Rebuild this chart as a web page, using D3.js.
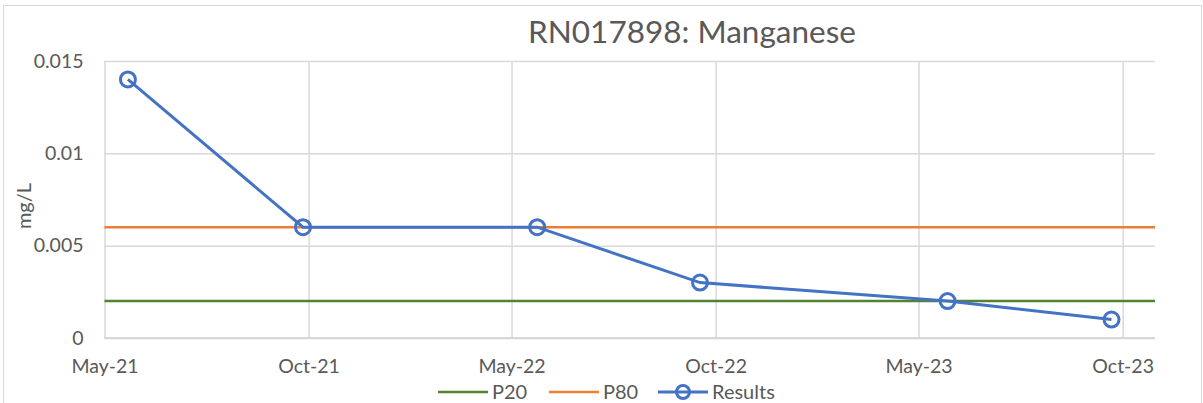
<!DOCTYPE html>
<html>
<head>
<meta charset="utf-8">
<script src="https://cdn.jsdelivr.net/npm/d3@7"></script>
<style>
  body { margin: 0; background: #fff; }
  text { font-family: Lato, "Open Sans", sans-serif; fill: #595959; }
</style>
</head>
<body>
<svg id="chart"></svg>
<script>
var sampleDates = ["2021-05-22", "2021-10-26", "2022-05-24", "2022-10-17", "2023-05-27", "2023-10-21"]
var results = [0.014, 0.006, 0.006, 0.003, 0.002, 0.001]
var p20 = 0.002
var p80 = 0.006
var tickDates = ["2021-05-01", "2021-10-31", "2022-05-01", "2022-10-31", "2023-05-01", "2023-10-31"]
var axisEnd = "2023-11-29"
var yTicks = [0, 0.005, 0.01, 0.015]
var title = "RN017898: Manganese"

var parse = d3.timeParse("%Y-%m-%d")

var screen = {width: 1203, height: 403}
var margins = {top: 61, bottom: 65, left: 104.5, right: 48}
var graph = {
    width: screen.width - margins.left - margins.right,
    height: screen.height - margins.top - margins.bottom
}

var svg = d3.select("#chart")
    .attr("width", screen.width)
    .attr("height", screen.height)

// chart frame
svg.append("rect")
    .attr("x", 3.5).attr("y", 5.5)
    .attr("width", 1198).attr("height", 410)
    .attr("fill", "white")
    .attr("stroke", "#d9d9d9")
    .attr("stroke-width", 1)

var xScale = d3.scaleTime()
    .domain([parse(tickDates[0]), parse(axisEnd)])
    .range([0, graph.width])

var yScale = d3.scaleLinear()
    .domain([0, 0.015])
    .range([graph.height, 0])

var g = svg.append("g")
    .attr("transform", "translate(" + margins.left + "," + margins.top + ")")

// gridlines
var yAxis = d3.axisLeft(yScale)
    .tickValues(yTicks)
    .tickSize(-graph.width)
    .tickPadding(21)
    .tickFormat(function(d) { return d3.format("")(+d.toFixed(3)) })

var xAxis = d3.axisBottom(xScale)
    .tickValues(tickDates.map(parse))
    .tickSize(-graph.height)
    .tickPadding(21)
    .tickFormat(d3.timeFormat("%b-%y"))

var yg = g.append("g").call(yAxis)
yg.select(".domain").remove()
yg.selectAll("line").attr("stroke", "#d9d9d9").attr("stroke-width", 1.5)
yg.selectAll("text").attr("font-size", 19.5).attr("fill", "#595959")

var xg = g.append("g")
    .attr("transform", "translate(0," + graph.height + ")")
    .call(xAxis)
xg.select(".domain").remove()
xg.selectAll("line").attr("stroke", "#d9d9d9").attr("stroke-width", 1.5)
xg.selectAll("text").attr("font-size", 19.5).attr("fill", "#595959")

// bottom axis line
g.append("line")
    .attr("x1", 0).attr("x2", graph.width)
    .attr("y1", yScale(0)).attr("y2", yScale(0))
    .attr("stroke", "#d0d0d0").attr("stroke-width", 1.5)

// reference lines
var refs = [{value: p20, color: "#548235"}, {value: p80, color: "#ed7d31"}]
g.selectAll(".ref")
    .data(refs)
    .enter()
    .append("line")
    .classed("ref", true)
    .attr("x1", 0).attr("x2", graph.width)
    .attr("y1", function(d) { return yScale(d.value) })
    .attr("y2", function(d) { return yScale(d.value) })
    .attr("stroke", function(d) { return d.color })
    .attr("stroke-width", 2.5)

var points = sampleDates.map(function(d, i) { return {date: parse(d), value: results[i]} })

var lineGenerator = d3.line()
    .x(function(d) { return xScale(d.date) })
    .y(function(d) { return yScale(d.value) })

g.append("path")
    .datum(points)
    .attr("d", lineGenerator)
    .attr("fill", "none")
    .attr("stroke", "#4472c4")
    .attr("stroke-width", 3)

g.selectAll(".pt")
    .data(points)
    .enter()
    .append("circle")
    .classed("pt", true)
    .attr("cx", function(d) { return xScale(d.date) })
    .attr("cy", function(d) { return yScale(d.value) })
    .attr("r", 7.5)
    .attr("fill", "none")
    .attr("stroke", "#4472c4")
    .attr("stroke-width", 3)

// title
svg.append("text")
    .attr("x", 692).attr("y", 43)
    .attr("text-anchor", "middle")
    .attr("font-size", 31.5)
    .text(title)

// y axis title
svg.append("text")
    .attr("transform", "translate(31,206) rotate(-90)")
    .attr("text-anchor", "middle")
    .attr("font-size", 20)
    .text("mg/L")

// legend
var legend = [
    {name: "P20", color: "#548235", x: 438, marker: false},
    {name: "P80", color: "#ed7d31", x: 549, marker: false},
    {name: "Results", color: "#4472c4", x: 658, marker: true}
]
var lg = svg.selectAll(".legend")
    .data(legend)
    .enter()
    .append("g")
    .classed("legend", true)
    .attr("transform", function(d) { return "translate(" + d.x + ",392)" })
lg.append("line")
    .attr("x1", 0).attr("x2", 50)
    .attr("stroke", function(d) { return d.color })
    .attr("stroke-width", function(d) { return d.marker ? 3 : 2.5 })
lg.filter(function(d) { return d.marker })
    .append("circle")
    .attr("cx", 25).attr("r", 6.5)
    .attr("fill", "none")
    .attr("stroke", function(d) { return d.color })
    .attr("stroke-width", 3)
lg.append("text")
    .attr("x", 54).attr("y", 7)
    .attr("font-size", 20)
    .text(function(d) { return d.name })
</script>
</body>
</html>
